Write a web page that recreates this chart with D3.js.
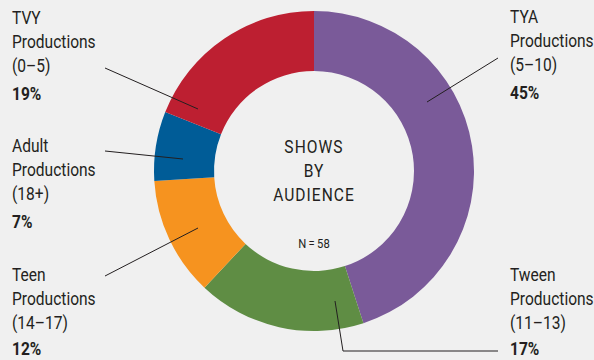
<!DOCTYPE html>
<html>
<head>
<meta charset="utf-8">
<script src="https://cdn.jsdelivr.net/npm/d3@7"></script>
<style>
  html, body { margin: 0; padding: 0; background: #f0f0f0; }
  svg { display: block; }
  .lbl { font-family: "Roboto", "Liberation Sans", sans-serif; font-size: 18px; fill: #231f20; }
  .pct { font-weight: bold; }
</style>
</head>
<body>
<svg id="chart" width="594" height="360"></svg>
<script>
// Audience groups, clockwise from 12 o'clock
const categories = ["TYA", "Tween", "Teen", "Adult", "TVY"];
const labelLines = [
  ["TYA", "Productions", "(5\u201310)"],
  ["Tween", "Productions", "(11\u201313)"],
  ["Teen", "Productions", "(14\u201317)"],
  ["Adult", "Productions", "(18+)"],
  ["TVY", "Productions", "(0\u20135)"]
];
const percents = [45, 17, 12, 7, 19];
const colors = ["#7a5a99", "#5f8d44", "#f6931f", "#005c97", "#bd1f31"];
const totalShows = 58;
const centerTitle = ["SHOWS", "BY", "AUDIENCE"];

const cx = 314, cy = 171, rOuter = 160, rInner = 100;
const narrow = 0.865; // horizontal squeeze for a condensed look

const svg = d3.select("#chart");
const g = svg.append("g").attr("transform", `translate(${cx},${cy})`);

const data = categories.map((c, i) => ({ cat: c, pct: percents[i], color: colors[i], lines: labelLines[i] }));

const pie = d3.pie().value(d => d.pct).sort(null);
const arc = d3.arc().innerRadius(rInner).outerRadius(rOuter);

g.selectAll("path.slice")
  .data(pie(data))
  .join("path")
  .attr("class", "slice")
  .attr("d", arc)
  .attr("fill", d => d.data.color);

// Label blocks: text anchor (x, first baseline), gap to the % line, leader polyline
const layout = {
  TYA:   { x: 510, y: 23,  pctGap: 76, leader: [[427, 102], [498, 58]] },
  Tween: { x: 510, y: 281, pctGap: 74, leader: [[335, 301], [343, 351], [498, 351]] },
  Teen:  { x: 12,  y: 281, pctGap: 74, leader: [[105, 276], [198, 228]] },
  Adult: { x: 12,  y: 152, pctGap: 76, leader: [[105, 151], [183, 159]] },
  TVY:   { x: 12,  y: 24,  pctGap: 76, leader: [[105, 68], [198, 109]] }
};

const line = d3.line();
data.forEach(d => {
  const L = layout[d.cat];
  svg.append("path")
    .attr("d", line(L.leader))
    .attr("fill", "none")
    .attr("stroke", "#231f20")
    .attr("stroke-width", 1);
  const t = svg.append("g")
    .attr("transform", `translate(${L.x},${L.y}) scale(${narrow},1)`);
  d.lines.forEach((s, i) => {
    t.append("text").attr("class", "lbl")
      .attr("x", 0).attr("y", i * 24)
      .text(s);
  });
  t.append("text").attr("class", "lbl pct")
    .attr("x", 0).attr("y", L.pctGap)
    .text(d3.format("d")(d.pct) + "%");
});

// Centre title
const ct = svg.append("g").attr("transform", `translate(${cx},153) scale(${narrow},1)`);
centerTitle.forEach((s, i) => {
  ct.append("text").attr("class", "lbl")
    .attr("x", 0).attr("y", i * 24)
    .attr("text-anchor", "middle")
    .style("letter-spacing", "1.2px")
    .text(s);
});
ct.append("text").attr("class", "lbl")
  .attr("x", 0).attr("y", 95)
  .attr("text-anchor", "middle")
  .style("font-size", "13px")
  .text("N\u2009=\u2009" + totalShows);
</script>
</body>
</html>
